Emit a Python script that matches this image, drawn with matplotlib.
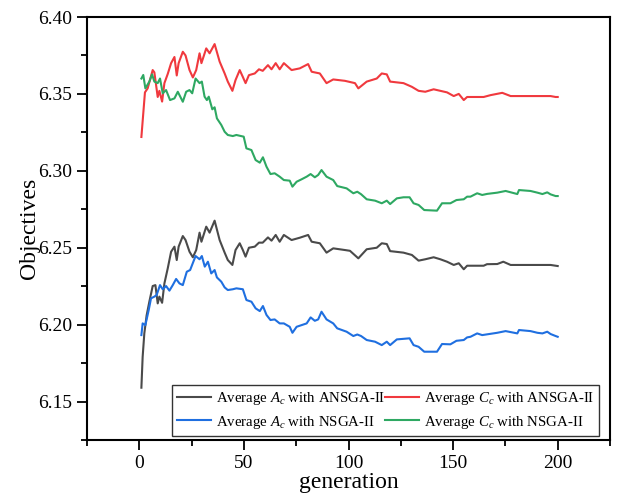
import matplotlib.pyplot as plt
import numpy as np

plt.rcParams["font.family"] = ["Liberation Serif", "DejaVu Serif"]
plt.rcParams["mathtext.fontset"] = "custom"
plt.rcParams["mathtext.rm"] = "Liberation Serif"
plt.rcParams["mathtext.it"] = "Liberation Serif:italic"

# Average C_c with ANSGA-II (red)
gen_cc_ansga = [1, 2.7, 4.0, 6.4, 7.2, 8.8, 9.6, 10.9, 12.0, 13.6, 15.2, 16.8, 17.9, 18.8, 20.8,
                22.1, 24.0, 25.6, 27.2, 28.8, 29.7, 32.0, 33.6, 36.0, 38.4, 40.8, 42.3, 44.5,
                46.0, 48.0, 49.5, 50.8, 52.4, 55.2, 57.2, 59.0, 61.5, 63.2, 65.2, 67.1, 69.1,
                72.8, 76.7, 80.7, 82.4, 86.3, 89.5, 92.7, 98.3, 103.1, 104.7, 108.7, 113.5,
                115.9, 118.3, 119.9, 126.3, 130.3, 133.5, 136.7, 140.7, 143.9, 147.1, 150.3,
                152.7, 155.1, 156.7, 164.6, 167.9, 173.5, 177.5, 196.6, 199, 200]
cc_ansga = [6.322, 6.351, 6.3536, 6.3655, 6.364, 6.348, 6.352, 6.345, 6.357, 6.363, 6.370,
            6.374, 6.362, 6.370, 6.3774, 6.375, 6.3655, 6.3607, 6.3655, 6.3764, 6.370, 6.3796,
            6.3764, 6.3824, 6.371, 6.3633, 6.358, 6.352, 6.359, 6.3655, 6.361, 6.357, 6.3622,
            6.3633, 6.366, 6.365, 6.3687, 6.366, 6.370, 6.366, 6.370, 6.3655, 6.3666, 6.3694,
            6.3644, 6.3633, 6.357, 6.3594, 6.3585, 6.357, 6.3536, 6.358, 6.360, 6.3633, 6.3627,
            6.358, 6.357, 6.3546, 6.352, 6.3514, 6.353, 6.352, 6.351, 6.3486, 6.350, 6.346,
            6.348, 6.348, 6.3492, 6.3507, 6.3486, 6.3486, 6.348, 6.348]

# Average A_c with ANSGA-II (dark grey)
gen_ac_ansga = [1, 1.6, 2.4, 3.5, 4.8, 6.4, 7.7, 8.8, 9.6, 10.9, 12.0, 13.6, 15.2, 16.8, 17.9,
                18.8, 20.8, 22.1, 24.0, 25.6, 27.2, 28.8, 29.7, 32.0, 33.6, 36.0, 38.4, 40.8,
                42.3, 44.5, 46.0, 48.0, 49.5, 50.8, 52.4, 55.2, 57.2, 59.0, 61.5, 63.2, 65.2,
                67.1, 69.1, 72.8, 76.7, 80.7, 82.4, 86.3, 89.5, 92.7, 98.3, 100.7, 104.7, 108.7,
                113.5, 115.9, 118.3, 119.9, 126.3, 130.3, 133.5, 136.7, 140.7, 143.9, 147.1,
                150.3, 152.7, 155.1, 156.7, 164.6, 166.2, 171.1, 174, 177.5, 196.6, 200]
ac_ansga = [6.159, 6.179, 6.1943, 6.206, 6.2149, 6.2251, 6.2257, 6.2138, 6.2182, 6.2142, 6.2268,
            6.2366, 6.2474, 6.2507, 6.242, 6.2507, 6.2576, 6.255, 6.2474, 6.2438, 6.2485,
            6.2598, 6.2539, 6.2637, 6.2598, 6.2676, 6.255, 6.2468, 6.242, 6.2388, 6.2485,
            6.2529, 6.2485, 6.2442, 6.250, 6.2507, 6.2533, 6.2533, 6.2567, 6.2546, 6.2583,
            6.2539, 6.2583, 6.255, 6.2565, 6.2583, 6.2539, 6.2529, 6.2468, 6.2496, 6.2485,
            6.248, 6.2431, 6.249, 6.250, 6.2529, 6.2524, 6.2478, 6.2468, 6.2453, 6.2416,
            6.2425, 6.2438, 6.2425, 6.2409, 6.2388, 6.2399, 6.236, 6.2383, 6.2383, 6.2393,
            6.2394, 6.2409, 6.2388, 6.2388, 6.2381]

# Average C_c with NSGA-II (green)
gen_cc_nsga = [1, 1.9, 2.9, 4.8, 6.1, 7.2, 8.8, 9.9, 11.2, 12.8, 14.7, 16.8, 18.4, 20.8, 22.4,
               24.0, 25.3, 26.9, 28.8, 29.9, 31.2, 32.3, 33.2, 34.9, 36.0, 37.1, 39.2, 40.8,
               42.3, 44.7, 46.4, 49.9, 51.2, 53.6, 55.6, 57.6, 59.1, 60.8, 62.7, 64.7, 67.1,
               69.1, 71.9, 73.2, 75.2, 77.6, 80.0, 81.9, 83.9, 85.5, 87.1, 89.5, 92.7, 94.6,
               99.1, 102.3, 104.2, 106, 108.7, 112.7, 115.9, 118.3, 119.9, 123.1, 126.3, 129.2,
               131.1, 133.5, 136.2, 142.3, 144.7, 148.7, 151.6, 155.1, 156.7, 158.3, 161.5,
               163.9, 166.3, 171.1, 175.1, 180.7, 181.5, 187, 190.3, 192.7, 195, 196.6, 199, 200]
cc_nsga = [6.360, 6.3623, 6.3536, 6.358, 6.3627, 6.358, 6.357, 6.360, 6.3504, 6.3525, 6.346,
           6.3471, 6.3514, 6.3449, 6.3514, 6.3525, 6.3504, 6.360, 6.357, 6.358, 6.3482, 6.346,
           6.3482, 6.340, 6.3413, 6.3341, 6.3298, 6.3254, 6.3233, 6.3226, 6.3233, 6.3222,
           6.3146, 6.3135, 6.307, 6.3053, 6.3088, 6.3027, 6.2979, 6.2984, 6.2962, 6.294,
           6.2936, 6.2897, 6.2929, 6.2945, 6.2962, 6.2979, 6.2958, 6.2973, 6.3005, 6.2962,
           6.294, 6.2901, 6.2886, 6.2854, 6.2864, 6.2848, 6.2815, 6.2806, 6.2789, 6.2806,
           6.2784, 6.2821, 6.2828, 6.2828, 6.2789, 6.2778, 6.2745, 6.2741, 6.2789, 6.2789,
           6.281, 6.2815, 6.2832, 6.2832, 6.2854, 6.2843, 6.285, 6.2858, 6.2869, 6.2849,
           6.2875, 6.2869, 6.2858, 6.2849, 6.286, 6.2847, 6.2836, 6.2836]

# Average A_c with NSGA-II (blue)
gen_ac_nsga = [1, 1.6, 2.9, 4.5, 5.6, 7.2, 8.3, 9.9, 11.2, 12.8, 14.4, 16.0, 17.6, 19.2, 20.8,
               22.7, 24.3, 26.9, 28.8, 29.9, 31.3, 32.8, 34.4, 36.0, 37.1, 39.2, 40.8, 42.3,
               44.7, 46.4, 49.5, 51.2, 53.6, 55.6, 57.6, 59.1, 60.8, 62.7, 64.7, 67.1, 69.1,
               71.9, 73.2, 75.2, 77.6, 80.0, 81.9, 83.9, 85.5, 87.1, 89.5, 92.7, 94.6, 99.1,
               102.3, 104.2, 106, 108.7, 112.7, 115.9, 118.3, 119.9, 123.1, 129.2, 131.1, 133.5,
               136.2, 142.3, 144.7, 148.7, 151.6, 155.1, 156.7, 158.3, 161.5, 163.9, 171.1,
               175.1, 180.7, 181.5, 187, 190.3, 192.7, 195, 196.6, 199, 200]
ac_nsga = [6.1932, 6.2008, 6.1997, 6.2095, 6.2171, 6.2182, 6.2193, 6.2257, 6.223, 6.2251,
           6.2221, 6.2257, 6.2297, 6.2268, 6.2257, 6.2344, 6.2355, 6.2446, 6.2425, 6.2446,
           6.2377, 6.2409, 6.2333, 6.2355, 6.2307, 6.2279, 6.2242, 6.2225, 6.223, 6.2236,
           6.223, 6.216, 6.2149, 6.2106, 6.2088, 6.2121, 6.2063, 6.203, 6.2034, 6.2008, 6.2008,
           6.1986, 6.1947, 6.1986, 6.1997, 6.2008, 6.2047, 6.2025, 6.2034, 6.2084, 6.2034,
           6.2008, 6.1976, 6.1954, 6.1926, 6.1936, 6.1926, 6.19, 6.1889, 6.1867, 6.1889,
           6.1867, 6.1904, 6.1911, 6.1867, 6.1856, 6.1824, 6.1824, 6.1874, 6.1872, 6.1895,
           6.19, 6.1917, 6.1921, 6.1943, 6.1932, 6.1947, 6.1958, 6.1943, 6.1965, 6.1958,
           6.1947, 6.1943, 6.1954, 6.1939, 6.1926, 6.1921]

fig = plt.figure(figsize=(6.24, 4.98), dpi=100)
ax = fig.add_axes([87 / 624, 1 - 440 / 498, 523 / 624, 423 / 498])

lw = 1.5
l_ac_an, = ax.plot(gen_ac_ansga, ac_ansga, color="#4a4a4a", lw=lw, label="Average $A_c$ with ANSGA-II")
l_ac_n, = ax.plot(gen_ac_nsga, ac_nsga, color="#1f6fe0", lw=lw, label="Average $A_c$ with NSGA-II")
l_cc_an, = ax.plot(gen_cc_ansga, cc_ansga, color="#f0393e", lw=lw, label="Average $C_c$ with ANSGA-II")
l_cc_n, = ax.plot(gen_cc_nsga, cc_nsga, color="#2ea862", lw=lw, label="Average $C_c$ with NSGA-II")

ax.set_xlim(-25, 225)
ax.set_ylim(6.125, 6.40)
ax.set_xticks([0, 50, 100, 150, 200])
ax.set_xticks(np.arange(-25, 226, 25), minor=True)
ax.set_yticks([6.15, 6.20, 6.25, 6.30, 6.35, 6.40])
ax.set_yticks(np.arange(6.125, 6.401, 0.025), minor=True)
ax.yaxis.set_major_formatter(plt.FormatStrFormatter("%.2f"))
ax.tick_params(which="major", direction="out", length=7, width=1.3, labelsize=14)
ax.tick_params(which="minor", direction="out", length=4, width=1.3)
for s in ax.spines.values():
    s.set_linewidth(1.5)

ax.set_xlabel("generation", fontsize=17, labelpad=0)
ax.set_ylabel("Objectives", fontsize=17, labelpad=-1)

leg = ax.legend(handles=[l_ac_an, l_ac_n, l_cc_an, l_cc_n], ncol=2, loc="lower right",
                bbox_to_anchor=(0.979, 0.01), borderaxespad=0, fontsize=10.7,
                frameon=True, fancybox=False, edgecolor="black", handlelength=2.3,
                handletextpad=0.3, columnspacing=0.0, labelspacing=0.45, borderpad=0.35)
leg.get_frame().set_linewidth(1.0)

fig.savefig("out.png", dpi=100)
